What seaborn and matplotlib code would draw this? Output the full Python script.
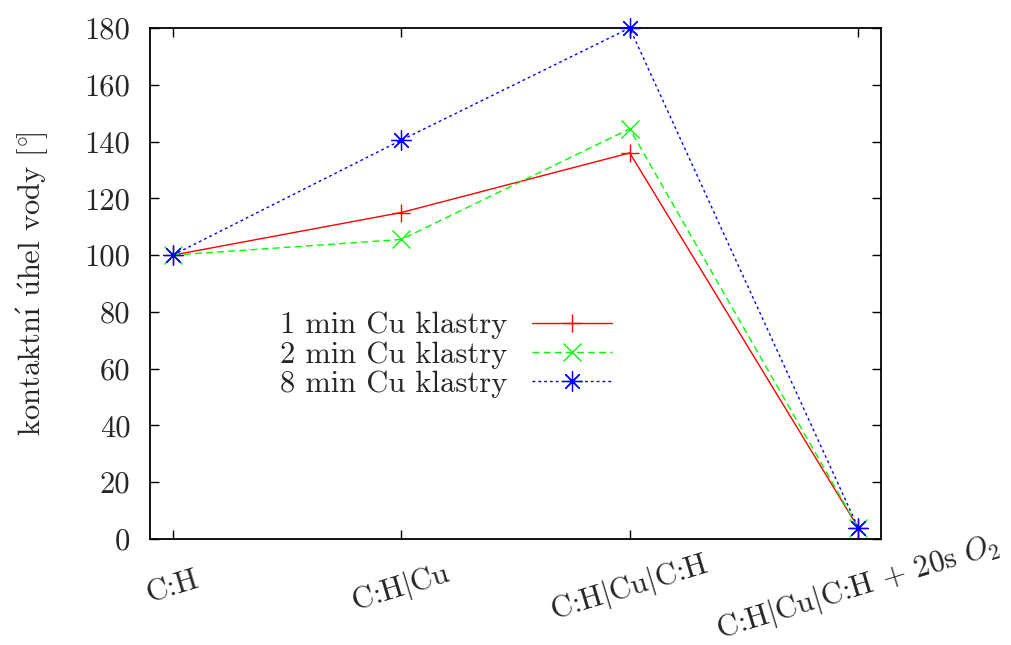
import matplotlib
matplotlib.use("Agg")
import matplotlib.pyplot as plt
import seaborn as sns
import pandas as pd

# Sample preparation stages
stages = [
    "C:H",
    "C:H$|$Cu",
    "C:H$|$Cu$|$C:H",
    "C:H$|$Cu$|$C:H $+$ 20s $O_2$",
]
series_names = ["1 min Cu klastry", "2 min Cu klastry", "8 min Cu klastry"]
contact_1min = [100.0, 115.0, 136.0, 4.0]
contact_2min = [100.0, 105.5, 144.5, 4.0]
contact_8min = [100.0, 140.5, 180.0, 4.0]
y_ticks = [0, 20, 40, 60, 80, 100, 120, 140, 160, 180]

FS = 22

sns.set_theme(style="white")
plt.rcParams.update({
    "font.family": ["cmr10"],
    "mathtext.fontset": "cm",
    "axes.formatter.use_mathtext": True,
    "font.size": FS,
})

rows = []
for name, vals in zip(series_names, [contact_1min, contact_2min, contact_8min]):
    for i, v in enumerate(vals):
        rows.append({"pos": i, "angle": v, "series": name})
df = pd.DataFrame(rows)

palette = {series_names[0]: "#ff0000", series_names[1]: "#00ff00", series_names[2]: "#0000ff"}
markers = {series_names[0]: "+", series_names[1]: "x", series_names[2]: (8, 2, 0)}
dashes = {series_names[0]: "", series_names[1]: (5, 3), series_names[2]: (2, 2.2)}

fig = plt.figure(figsize=(10.12, 6.45), dpi=100)
ax = fig.add_axes([150 / 1012, 1 - 539 / 645, (881 - 150) / 1012, (539 - 28) / 645])

sns.lineplot(
    data=df, x="pos", y="angle", hue="series", style="series",
    palette=palette, markers=markers, dashes=dashes,
    linewidth=1.0, markersize=12.5, markeredgewidth=1.0,
    clip_on=False, ax=ax, zorder=3,
)


def style_markers(lines):
    # line-art markers take the line colour; the asterisk is drawn a bit larger
    for ln in lines:
        ln.set_markeredgecolor(ln.get_color())
        if isinstance(ln.get_marker(), tuple):
            ln.set_markersize(14.5)
            ln.set_markeredgewidth(0.9)


style_markers(ax.lines)

ax.set_xlim(-0.1, 3.1)
ax.set_ylim(0, 180)
ax.set_yticks(y_ticks)
ax.set_yticklabels([str(t) for t in y_ticks])
ax.set_xticks(range(len(stages)))
ax.set_xticklabels(stages)
ax.set_xlabel("")
ax.set_ylabel("kontaktn$\\mathrm{\\acute{\u0131}}$ $\\mathrm{\\acute{u}}$hel vody $[^{\\circ}\\!]$",
              fontsize=FS, labelpad=24)

for sp in ax.spines.values():
    sp.set_visible(True)
    sp.set_color("black")
    sp.set_linewidth(1.3)

ax.tick_params(axis="both", which="major", direction="in", length=6.5, width=1.0,
               color="black", labelsize=FS, top=True, right=True,
               bottom=True, left=True)
ax.tick_params(axis="y", pad=14)
ax.tick_params(axis="x", pad=35)
plt.setp(ax.get_xticklabels(), rotation=17, rotation_mode="anchor", ha="center", va="center")

handles, labels = ax.get_legend_handles_labels()
leg = ax.legend(handles, labels, loc="center", bbox_to_anchor=(0.405, 0.36),
                frameon=False, markerfirst=False, handlelength=2.6, handletextpad=0.8,
                labelspacing=0.06, fontsize=FS, borderpad=0.2)
style_markers(leg.get_lines())

fig.savefig("out.png", dpi=100)
